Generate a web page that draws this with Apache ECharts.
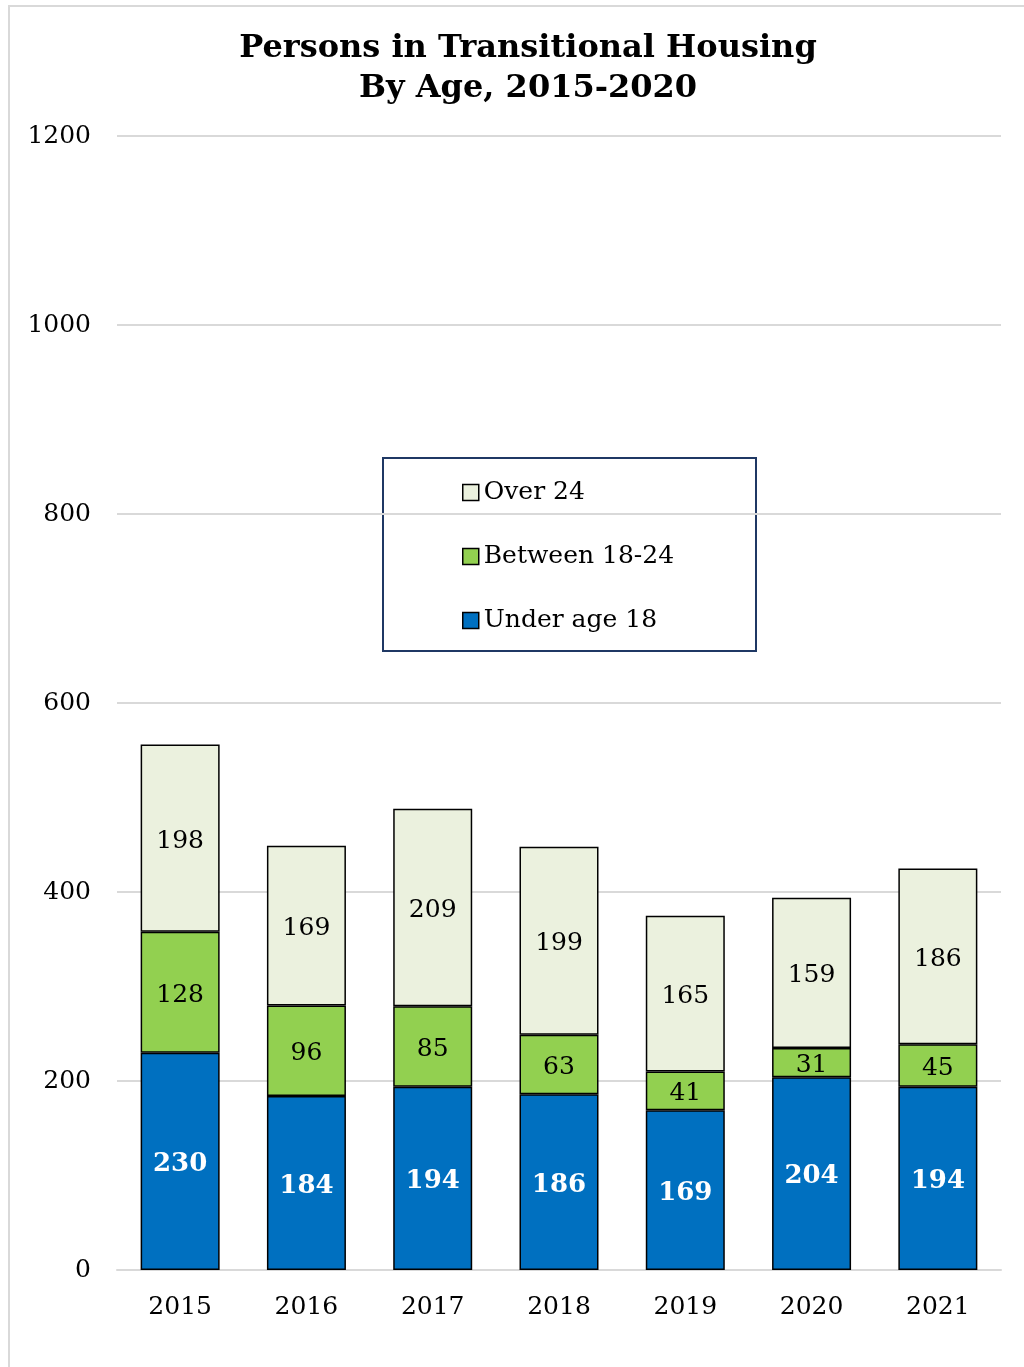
<!DOCTYPE html>
<html>
<head>
<meta charset="utf-8">
<script src="https://cdn.jsdelivr.net/npm/echarts@6/dist/echarts.min.js"></script>
<style>
html,body{margin:0;padding:0;background:#fff;}
#wrap{position:absolute;left:0;top:0;width:1024px;height:1367px;}
#frame{position:absolute;left:8px;top:5px;width:1016px;height:1362px;border-left:2px solid #d9d9d9;border-top:2px solid #d9d9d9;box-sizing:border-box;}
#chart{position:absolute;left:0;top:0;width:1024px;height:1367px;}
</style>
</head>
<body>
<div id="wrap"><div id="frame"></div><div id="chart"></div></div>
<script>
const years = ['2015','2016','2017','2018','2019','2020','2021'];
const under18 = [230,184,194,186,169,204,194];
const between18to24 = [128,96,85,63,41,31,45];
const over24 = [198,169,209,199,165,159,186];
const yTicks = [0,200,400,600,800,1000,1200];

const FONT = "Georgia, 'DejaVu Serif', serif";
const chart = echarts.init(document.getElementById('chart'), null, {renderer:'canvas'});

function barSeries(name, data, color, labelColor, bold){
  return {
    name: name, type: 'bar', stack: 'total', data: data,
    barWidth: 79,
    itemStyle: {color: color, borderColor: '#000', borderWidth: 1.5},
    label: {show: true, position: 'inside', color: labelColor, fontFamily: FONT,
            fontSize: bold ? 26 : 25, fontWeight: bold ? 'bold' : 'normal', offset: [0, 3]},
    emphasis: {disabled: true}
  };
}

chart.setOption({
  animation: false,
  backgroundColor: 'transparent',
  title: {
    text: 'Persons in Transitional Housing\nBy Age, 2015-2020',
    left: 523, top: 24, textAlign: 'center',
    textStyle: {fontFamily: FONT, fontSize: 32, fontWeight: 'bold', color: '#000', lineHeight: 40}
  },
  grid: {left: 117, right: 23, top: 136, bottom: 97, containLabel: false},
  graphic: [{
    type: 'rect', left: 382, top: 457, z: 0,
    shape: {width: 373, height: 193},
    style: {fill: '#fff', stroke: '#1F3864', lineWidth: 2}
  }],
  legend: {
    data: ['Over 24','Between 18-24','Under age 18'],
    orient: 'vertical', left: 457, top: 475,
    itemWidth: 16, itemHeight: 16, itemGap: 39,
    icon: 'rect',
    itemStyle: {borderColor: '#000', borderWidth: 1.5},
    textStyle: {fontFamily: FONT, fontSize: 25, color: '#000'},
    z: 5
  },
  xAxis: {
    type: 'category', data: years,
    axisLine: {show: true, lineStyle: {color: '#d9d9d9', width: 2}},
    axisTick: {show: false},
    axisLabel: {fontFamily: FONT, fontSize: 25, color: '#000', margin: 25}
  },
  yAxis: {
    type: 'value', min: 0, max: 1200, interval: 200,
    axisLine: {show: false}, axisTick: {show: false},
    splitLine: {lineStyle: {color: '#d9d9d9', width: 2}},
    axisLabel: {fontFamily: FONT, fontSize: 25, color: '#000', margin: 26,
      formatter: v => yTicks.includes(v) ? String(v) : ''}
  },
  series: [
    barSeries('Under age 18', under18, '#0070C0', '#fff', true),
    barSeries('Between 18-24', between18to24, '#92D050', '#000', false),
    barSeries('Over 24', over24, '#EBF1DE', '#000', false)
  ]
});
</script>
</body>
</html>
